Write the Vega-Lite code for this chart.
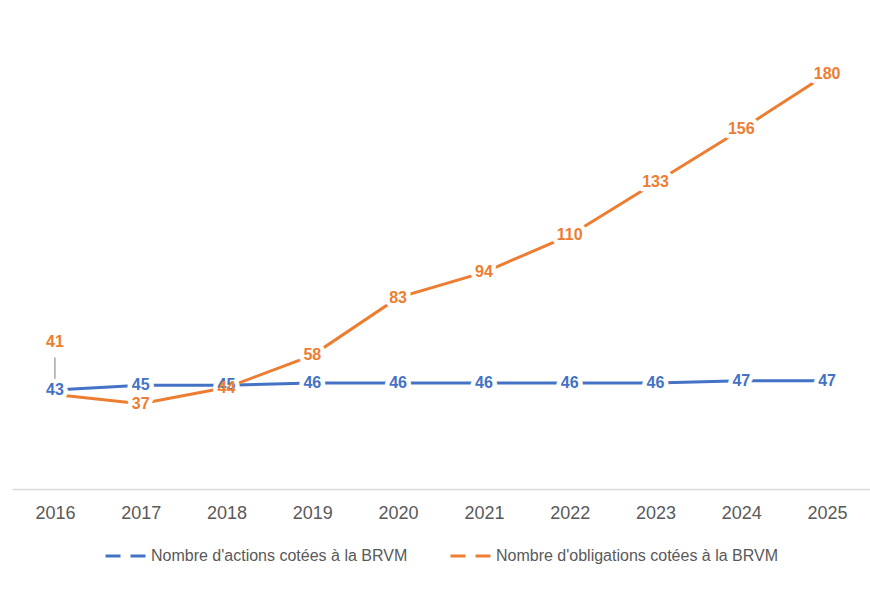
{
  "$schema": "https://vega.github.io/schema/vega-lite/v6.json",
  "width": 858,
  "height": 461,
  "autosize": "none",
  "padding": {"left": 12, "top": 28, "right": 0, "bottom": 103},
  "background": "white",
  "config": {
    "view": {"stroke": null},
    "font": "Liberation Sans"
  },
  "data": {
    "values": [
      {"year": "2016", "series": "Nombre d'actions cotées à la BRVM", "value": 43},
      {"year": "2017", "series": "Nombre d'actions cotées à la BRVM", "value": 45},
      {"year": "2018", "series": "Nombre d'actions cotées à la BRVM", "value": 45},
      {"year": "2019", "series": "Nombre d'actions cotées à la BRVM", "value": 46},
      {"year": "2020", "series": "Nombre d'actions cotées à la BRVM", "value": 46},
      {"year": "2021", "series": "Nombre d'actions cotées à la BRVM", "value": 46},
      {"year": "2022", "series": "Nombre d'actions cotées à la BRVM", "value": 46},
      {"year": "2023", "series": "Nombre d'actions cotées à la BRVM", "value": 46},
      {"year": "2024", "series": "Nombre d'actions cotées à la BRVM", "value": 47},
      {"year": "2025", "series": "Nombre d'actions cotées à la BRVM", "value": 47},
      {"year": "2016", "series": "Nombre d'obligations cotées à la BRVM", "value": 41},
      {"year": "2017", "series": "Nombre d'obligations cotées à la BRVM", "value": 37},
      {"year": "2018", "series": "Nombre d'obligations cotées à la BRVM", "value": 44},
      {"year": "2019", "series": "Nombre d'obligations cotées à la BRVM", "value": 58},
      {"year": "2020", "series": "Nombre d'obligations cotées à la BRVM", "value": 83},
      {"year": "2021", "series": "Nombre d'obligations cotées à la BRVM", "value": 94},
      {"year": "2022", "series": "Nombre d'obligations cotées à la BRVM", "value": 110},
      {"year": "2023", "series": "Nombre d'obligations cotées à la BRVM", "value": 133},
      {"year": "2024", "series": "Nombre d'obligations cotées à la BRVM", "value": 156},
      {"year": "2025", "series": "Nombre d'obligations cotées à la BRVM", "value": 180}
    ]
  },
  "encoding": {
    "x": {
      "field": "year",
      "type": "ordinal",
      "scale": {"type": "point", "padding": 0.5},
      "axis": {
        "title": null,
        "labelAngle": 0,
        "ticks": false,
        "domainColor": "#d9d9d9",
        "domainWidth": 1.5,
        "labelFontSize": 18,
        "labelColor": "#595959",
        "labelPadding": 15
      }
    },
    "y": {
      "field": "value",
      "type": "quantitative",
      "scale": {"domain": [0, 200]},
      "axis": null
    },
    "color": {
      "field": "series",
      "type": "nominal",
      "scale": {
        "domain": ["Nombre d'actions cotées à la BRVM", "Nombre d'obligations cotées à la BRVM"],
        "range": ["#4472C4", "#ED7D31"]
      },
      "legend": {
        "title": null,
        "orient": "none",
        "direction": "horizontal",
        "legendX": 92,
        "legendY": 506,
        "symbolType": "stroke",
        "symbolSize": 1681,
        "symbolStrokeWidth": 3,
        "symbolDash": [15, 10],
        "labelFontSize": 16,
        "labelColor": "#595959",
        "labelOffset": 3,
        "labelLimit": 0,
        "columnPadding": 36
      }
    }
  },
  "layer": [
    {
      "mark": {"type": "line", "strokeWidth": 3}
    },
    {
      "transform": [
        {"filter": "datum.year == '2016' && datum.series == \"Nombre d'obligations cotées à la BRVM\""}
      ],
      "mark": {"type": "rule", "strokeWidth": 1.5, "y2Offset": -37},
      "encoding": {
        "y2": {"field": "value"},
        "color": {"value": "#a6a6a6"}
      }
    },
    {
      "transform": [
        {"filter": "!(datum.year == '2016' && datum.series == \"Nombre d'obligations cotées à la BRVM\")"}
      ],
      "mark": {"type": "text", "fontSize": 16, "fontWeight": "bold", "stroke": "white", "strokeWidth": 9, "strokeJoin": "round"},
      "encoding": {"text": {"field": "value", "type": "quantitative"}, "color": {"value": "white"}}
    },
    {
      "transform": [
        {"filter": "!(datum.year == '2016' && datum.series == \"Nombre d'obligations cotées à la BRVM\")"}
      ],
      "mark": {"type": "text", "fontSize": 16, "fontWeight": "bold"},
      "encoding": {"text": {"field": "value", "type": "quantitative"}}
    },
    {
      "transform": [
        {"filter": "datum.year == '2016' && datum.series == \"Nombre d'obligations cotées à la BRVM\""}
      ],
      "mark": {"type": "text", "fontSize": 16, "fontWeight": "bold", "dy": -52},
      "encoding": {"text": {"field": "value", "type": "quantitative"}}
    }
  ]
}
